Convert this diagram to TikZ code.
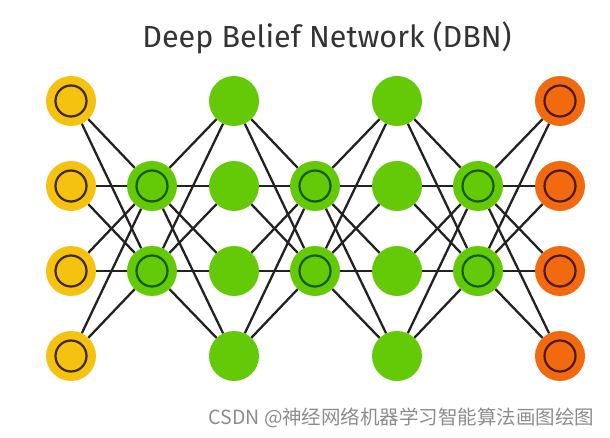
\documentclass[tikz,border=0pt]{standalone}
\usepackage{fontspec}
\setmainfont{Fira Sans}
\newfontfamily\cjk{Noto Sans CJK SC}
\definecolor{unityellow}{HTML}{F5C210}
\definecolor{unitgreen}{HTML}{64CA08}
\definecolor{unitorange}{HTML}{F26A10}
\definecolor{ringyellow}{HTML}{3A2A05}
\definecolor{ringgreen}{HTML}{165A05}
\definecolor{ringorange}{HTML}{4A1A05}
\definecolor{linkgray}{HTML}{222222}
\begin{document}
\begin{tikzpicture}[x=1pt,y=-1pt,
    unit/.style={circle, inner sep=0pt, minimum size=50pt},
    ringed/.style={unit, fill=unit#1, path picture={
        \draw[ring#1, line width=2.2pt] (path picture bounding box.center) circle (15.5pt);}},
    plain/.style={unit, fill=unitgreen},
    link/.style={every edge/.style={draw=linkgray, line width=2.3pt}}]
    \useasboundingbox (0,0) rectangle (610,438);

    \node (title) at (327,38) {\fontsize{30.5}{36}\selectfont\color{black!80}Deep Belief Network (DBN)};

    % visible layer
    \node (v1) [ringed=yellow] at (71,101) {};
    \node (v2) [ringed=yellow] at (71,186) {};
    \node (v3) [ringed=yellow] at (71,271) {};
    \node (v4) [ringed=yellow] at (71,356) {};

    \node (h1) [ringed=green] at (152,186) {};
    \node (h2) [ringed=green] at (152,271) {};

    \node (g1) [plain] at (234,101) {};
    \node (g2) [plain] at (234,186) {};
    \node (g3) [plain] at (234,271) {};
    \node (g4) [plain] at (234,356) {};

    \node (k1) [ringed=green] at (315,186) {};
    \node (k2) [ringed=green] at (315,271) {};

    \node (p1) [plain] at (397,101) {};
    \node (p2) [plain] at (397,186) {};
    \node (p3) [plain] at (397,271) {};
    \node (p4) [plain] at (397,356) {};

    \node (m1) [ringed=green] at (478,186) {};
    \node (m2) [ringed=green] at (478,271) {};

    % output layer
    \node (y1) [ringed=orange] at (560,101) {};
    \node (y2) [ringed=orange] at (560,186) {};
    \node (y3) [ringed=orange] at (560,271) {};
    \node (y4) [ringed=orange] at (560,356) {};

    \path[link] (v1) edge (h1) edge (h2);
    \path[link] (v2) edge (h1) edge (h2);
    \path[link] (v3) edge (h1) edge (h2);
    \path[link] (v4) edge (h1) edge (h2);

    \path[link] (g1) edge (h1) edge (h2) edge (k1) edge (k2);
    \path[link] (g2) edge (h1) edge (h2) edge (k1) edge (k2);
    \path[link] (g3) edge (h1) edge (h2) edge (k1) edge (k2);
    \path[link] (g4) edge (h1) edge (h2) edge (k1) edge (k2);

    \path[link] (p1) edge (k1) edge (k2) edge (m1) edge (m2);
    \path[link] (p2) edge (k1) edge (k2) edge (m1) edge (m2);
    \path[link] (p3) edge (k1) edge (k2) edge (m1) edge (m2);
    \path[link] (p4) edge (k1) edge (k2) edge (m1) edge (m2);

    \path[link] (y1) edge (m1) edge (m2);
    \path[link] (y2) edge (m1) edge (m2);
    \path[link] (y3) edge (m1) edge (m2);
    \path[link] (y4) edge (m1) edge (m2);

    \node (mark) [anchor=east] at (598,418) {\cjk\fontsize{19.5}{23}\selectfont\color{black!45}CSDN @神经网络机器学习智能算法画图绘图};
  \end{tikzpicture}
\end{document}
